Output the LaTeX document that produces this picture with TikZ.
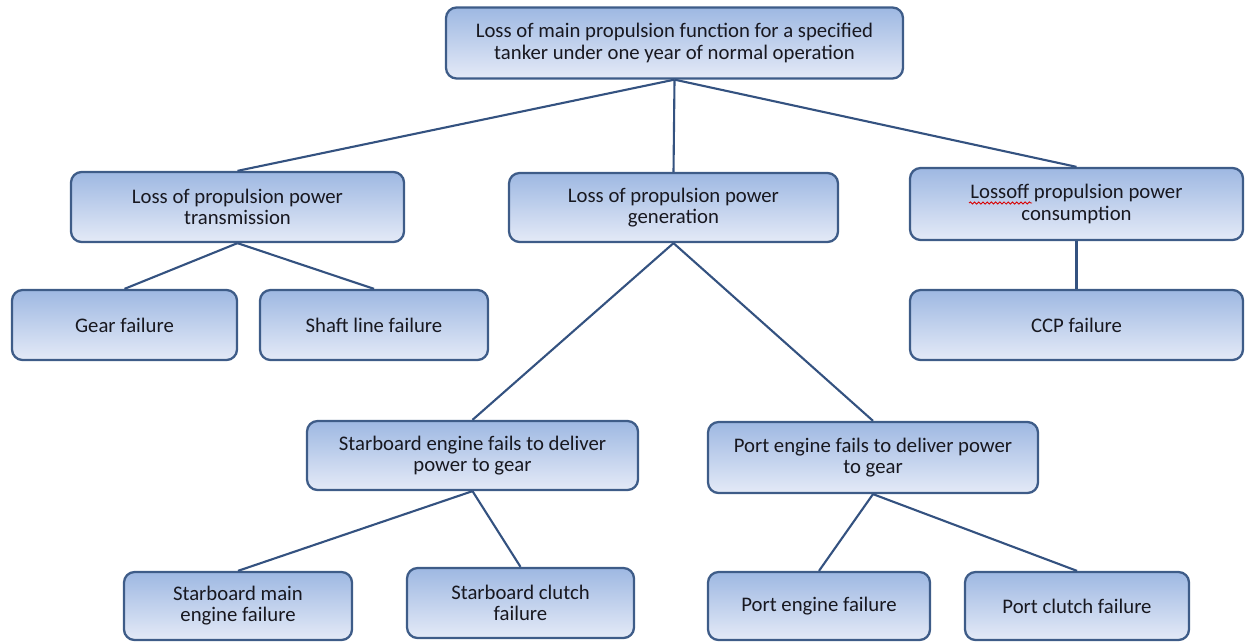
\documentclass[tikz,border=0pt]{standalone}
\usepackage{fontspec}
\setmainfont{Carlito}
\usetikzlibrary{decorations.pathmorphing}
\definecolor{boxtop}{RGB}{158,184,226}
\definecolor{boxbot}{RGB}{228,234,247}
\definecolor{boxline}{RGB}{62,92,136}
\definecolor{linkline}{RGB}{52,82,128}
\definecolor{txt}{RGB}{24,24,32}
\tikzset{
  fbox/.style n args={2}{draw=boxline, line width=1.3pt, rounded corners=6pt,
    top color=boxtop, bottom color=boxbot, align=center, inner sep=0pt,
    minimum width=#1*0.02cm, minimum height=#2*0.02cm, text=txt,
    font=\fontsize{11.8}{12}\selectfont},
  link/.style={draw=linkline, line width=1.2pt}
}
\begin{document}
\begin{tikzpicture}[x=0.02cm, y=-0.02cm]
\useasboundingbox (0,0) rectangle (1246,642);
% top event
\node[fbox={457}{71}] (top) at (674.5,43) {Loss of main propulsion function for a specified\\tanker under one year of normal operation};
% second level
\node[fbox={333}{70}] (trans) at (237.5,207) {Loss of propulsion power\\transmission};
\node[fbox={329}{69}] (gen) at (673.5,207.5) {Loss of propulsion power\\generation};
\node[fbox={333}{72}] (cons) at (1076.5,204) {Lossoff propulsion power\\consumption};
% third level
\node[fbox={225}{70}] (gear) at (124.5,325) {Gear failure};
\node[fbox={228}{70}] (shaft) at (374,325) {Shaft line failure};
\node[fbox={333}{70}] (ccp) at (1076.5,325) {CCP failure};
\node[fbox={331}{69}] (sbeng) at (472.5,455.5) {Starboard engine fails to deliver\\power to gear};
\node[fbox={330}{71}] (pteng) at (873,457.5) {Port engine fails to deliver power\\to gear};
% bottom level
\node[fbox={228}{68}] (sbmain) at (238,606) {Starboard main\\engine failure};
\node[fbox={227}{70}] (sbclutch) at (520.5,603) {Starboard clutch\\failure};
\node[fbox={222}{68}] (ptmain) at (819,606) {Port engine failure};
\node[fbox={224}{68}] (ptclutch) at (1077,606) {Port clutch failure};
% connectors
\draw[link] (top.south) -- (trans.north);
\draw[link] (top.south) -- (gen.north);
\draw[link] (top.south) -- (cons.north);
\draw[link] (trans.south) -- (gear.north);
\draw[link] (trans.south) -- (shaft.north);
\draw[link] (cons.south) -- (ccp.north);
\draw[link] (gen.south) -- (sbeng.north);
\draw[link] (gen.south) -- (pteng.north);
\draw[link] (sbeng.south) -- (sbmain.north);
\draw[link] (sbeng.south) -- (sbclutch.north);
\draw[link] (pteng.south) -- (ptmain.north);
\draw[link] (pteng.south) -- (ptclutch.north);
% spelling mark under the first word of the consumption box
\draw[red!85!black, line width=0.5pt, decorate,
  decoration={snake, amplitude=0.6pt, segment length=2.4pt}] (969,203) -- (1032,203);
\end{tikzpicture}
\end{document}
